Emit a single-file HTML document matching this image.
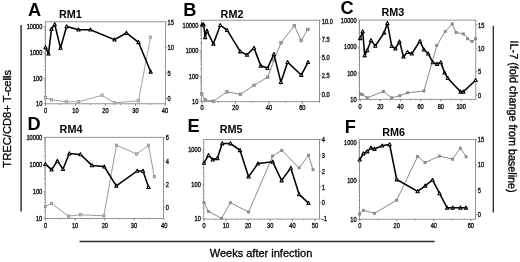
<!DOCTYPE html>
<html><head><meta charset="utf-8"><title>Figure</title>
<style>html,body{margin:0;padding:0;background:#fff;}body{width:520px;height:262px;overflow:hidden;position:relative;font-family:"Liberation Sans",sans-serif;}</style></head>
<body>
<svg width="520" height="262" viewBox="0 0 520 262" style="position:absolute;left:0;top:0;filter:grayscale(1)" font-family="Liberation Sans, sans-serif">
<rect width="520" height="262" fill="#fff"/>
<g>
<rect x="45.4" y="21.8" width="120" height="82" fill="none" stroke="#7a7a7a" stroke-width="0.8"/>
<text transform="translate(42.4,29.1) scale(0.9,1)" font-size="6.3" text-anchor="end" fill="#111" stroke="#111" stroke-width="0.33">10000</text>
<text transform="translate(42.4,54.8) scale(0.9,1)" font-size="6.3" text-anchor="end" fill="#111" stroke="#111" stroke-width="0.33">1000</text>
<text transform="translate(42.4,80.6) scale(0.9,1)" font-size="6.3" text-anchor="end" fill="#111" stroke="#111" stroke-width="0.33">100</text>
<text transform="translate(42.4,106.2) scale(0.9,1)" font-size="6.3" text-anchor="end" fill="#111" stroke="#111" stroke-width="0.33">10</text>
<text transform="translate(167.6,24.6) scale(0.9,1)" font-size="6.3" text-anchor="start" fill="#111" stroke="#111" stroke-width="0.33">15</text>
<text transform="translate(167.6,49.9) scale(0.9,1)" font-size="6.3" text-anchor="start" fill="#111" stroke="#111" stroke-width="0.33">10</text>
<text transform="translate(167.6,75.6) scale(0.9,1)" font-size="6.3" text-anchor="start" fill="#111" stroke="#111" stroke-width="0.33">5</text>
<text transform="translate(167.6,101.1) scale(0.9,1)" font-size="6.3" text-anchor="start" fill="#111" stroke="#111" stroke-width="0.33">0</text>
<text transform="translate(45.5,112.5) scale(0.9,1)" font-size="6.3" text-anchor="middle" fill="#111" stroke="#111" stroke-width="0.33">0</text>
<text transform="translate(75.5,112.5) scale(0.9,1)" font-size="6.3" text-anchor="middle" fill="#111" stroke="#111" stroke-width="0.33">10</text>
<text transform="translate(105.5,112.5) scale(0.9,1)" font-size="6.3" text-anchor="middle" fill="#111" stroke="#111" stroke-width="0.33">20</text>
<text transform="translate(135.5,112.5) scale(0.9,1)" font-size="6.3" text-anchor="middle" fill="#111" stroke="#111" stroke-width="0.33">30</text>
<text transform="translate(165,112.5) scale(0.9,1)" font-size="6.3" text-anchor="middle" fill="#111" stroke="#111" stroke-width="0.33">40</text>
<path d="M43.7 26.5H45.4M43.7 52.2H45.4M43.7 78H45.4M43.7 103.6H45.4M44.3 44.46H45.4M44.3 39.94H45.4M44.3 36.73H45.4M44.3 34.24H45.4M44.3 32.2H45.4M44.3 30.48H45.4M44.3 28.99H45.4M44.3 27.68H45.4M44.3 70.23H45.4M44.3 65.69H45.4M44.3 62.47H45.4M44.3 59.97H45.4M44.3 57.92H45.4M44.3 56.2H45.4M44.3 54.7H45.4M44.3 53.38H45.4M44.3 95.89H45.4M44.3 91.39H45.4M44.3 88.19H45.4M44.3 85.71H45.4M44.3 83.68H45.4M44.3 81.97H45.4M44.3 80.48H45.4M44.3 79.17H45.4M165.4 22H167.1M165.4 47.3H167.1M165.4 73H167.1M165.4 98.5H167.1M45.5 103.8V106M75.5 103.8V106M105.5 103.8V106M135.5 103.8V106M165 103.8V106M45.5 103.8V105M60.5 103.8V105M75.5 103.8V105M90.5 103.8V105M105.5 103.8V105M120.5 103.8V105M135.5 103.8V105M150.5 103.8V105M165.5 103.8V105" stroke="#7a7a7a" stroke-width="0.7" fill="none"/>
<polyline points="45.5,97.8 51.5,99.8 66.4,101.8 78.5,101.8 102.1,95.3 114.5,102.8 138.5,100.8 150.5,37.3" fill="none" stroke="#9a9a9a" stroke-width="0.9"/>
<rect x="44.25" y="96.55" width="2.5" height="2.5" fill="#cfcfcf" stroke="#8e8e8e" stroke-width="0.7"/>
<rect x="50.25" y="98.55" width="2.5" height="2.5" fill="#cfcfcf" stroke="#8e8e8e" stroke-width="0.7"/>
<rect x="65.15" y="100.55" width="2.5" height="2.5" fill="#cfcfcf" stroke="#8e8e8e" stroke-width="0.7"/>
<rect x="77.25" y="100.55" width="2.5" height="2.5" fill="#cfcfcf" stroke="#8e8e8e" stroke-width="0.7"/>
<rect x="100.85" y="94.05" width="2.5" height="2.5" fill="#cfcfcf" stroke="#8e8e8e" stroke-width="0.7"/>
<rect x="113.25" y="101.55" width="2.5" height="2.5" fill="#cfcfcf" stroke="#8e8e8e" stroke-width="0.7"/>
<rect x="137.25" y="99.55" width="2.5" height="2.5" fill="#cfcfcf" stroke="#8e8e8e" stroke-width="0.7"/>
<rect x="149.25" y="36.05" width="2.5" height="2.5" fill="#cfcfcf" stroke="#8e8e8e" stroke-width="0.7"/>
<polyline points="45.5,47.4 48.5,53.7 51.5,29 54.7,24.4 60.5,47.9 66.6,26.5 78.5,29.7 90.4,29.7 114.5,39.6 126.4,33 138.5,42.3 150.7,71.8" fill="none" stroke="#000" stroke-width="1.55" stroke-linejoin="miter"/>
<path d="M45.5 45.7L47.12 48.76H43.88Z" fill="#fff" stroke="#000" stroke-width="1.1" stroke-linejoin="round"/>
<path d="M48.5 52L50.12 55.06H46.88Z" fill="#fff" stroke="#000" stroke-width="1.1" stroke-linejoin="round"/>
<path d="M51.5 27.3L53.12 30.36H49.88Z" fill="#fff" stroke="#000" stroke-width="1.1" stroke-linejoin="round"/>
<path d="M54.7 22.7L56.32 25.76H53.09Z" fill="#fff" stroke="#000" stroke-width="1.1" stroke-linejoin="round"/>
<path d="M60.5 46.2L62.12 49.26H58.88Z" fill="#fff" stroke="#000" stroke-width="1.1" stroke-linejoin="round"/>
<path d="M66.6 24.8L68.21 27.86H64.98Z" fill="#fff" stroke="#000" stroke-width="1.1" stroke-linejoin="round"/>
<path d="M78.5 28L80.11 31.06H76.89Z" fill="#fff" stroke="#000" stroke-width="1.1" stroke-linejoin="round"/>
<path d="M90.4 28L92.02 31.06H88.79Z" fill="#fff" stroke="#000" stroke-width="1.1" stroke-linejoin="round"/>
<path d="M114.5 37.9L116.11 40.96H112.89Z" fill="#fff" stroke="#000" stroke-width="1.1" stroke-linejoin="round"/>
<path d="M126.4 31.3L128.02 34.36H124.79Z" fill="#fff" stroke="#000" stroke-width="1.1" stroke-linejoin="round"/>
<path d="M138.5 40.6L140.12 43.66H136.88Z" fill="#fff" stroke="#000" stroke-width="1.1" stroke-linejoin="round"/>
<path d="M150.7 70.1L152.31 73.16H149.08Z" fill="#fff" stroke="#000" stroke-width="1.1" stroke-linejoin="round"/>
<text x="28" y="15.6" font-size="18.2" font-weight="bold" fill="#000">A</text>
<text x="59" y="17.6" font-size="10.2" font-weight="bold" fill="#000" textLength="22.8" lengthAdjust="spacingAndGlyphs">RM1</text>
</g>
<g>
<rect x="201.3" y="20.2" width="118.3" height="81.5" fill="none" stroke="#7a7a7a" stroke-width="0.8"/>
<text transform="translate(198.3,27.8) scale(0.9,1)" font-size="6.3" text-anchor="end" fill="#111" stroke="#111" stroke-width="0.33">10000</text>
<text transform="translate(198.3,53.2) scale(0.9,1)" font-size="6.3" text-anchor="end" fill="#111" stroke="#111" stroke-width="0.33">1000</text>
<text transform="translate(198.3,79) scale(0.9,1)" font-size="6.3" text-anchor="end" fill="#111" stroke="#111" stroke-width="0.33">100</text>
<text transform="translate(198.3,103.6) scale(0.9,1)" font-size="6.3" text-anchor="end" fill="#111" stroke="#111" stroke-width="0.33">10</text>
<text transform="translate(321.8,23.6) scale(0.9,1)" font-size="6.3" text-anchor="start" fill="#111" stroke="#111" stroke-width="0.33">10.0</text>
<text transform="translate(321.8,41.8) scale(0.9,1)" font-size="6.3" text-anchor="start" fill="#111" stroke="#111" stroke-width="0.33">7.5</text>
<text transform="translate(321.8,60) scale(0.9,1)" font-size="6.3" text-anchor="start" fill="#111" stroke="#111" stroke-width="0.33">5.0</text>
<text transform="translate(321.8,78.3) scale(0.9,1)" font-size="6.3" text-anchor="start" fill="#111" stroke="#111" stroke-width="0.33">2.5</text>
<text transform="translate(321.8,96.6) scale(0.9,1)" font-size="6.3" text-anchor="start" fill="#111" stroke="#111" stroke-width="0.33">0.0</text>
<text transform="translate(202,110.3) scale(0.9,1)" font-size="6.3" text-anchor="middle" fill="#111" stroke="#111" stroke-width="0.33">0</text>
<text transform="translate(235.4,110.3) scale(0.9,1)" font-size="6.3" text-anchor="middle" fill="#111" stroke="#111" stroke-width="0.33">20</text>
<text transform="translate(268.9,110.3) scale(0.9,1)" font-size="6.3" text-anchor="middle" fill="#111" stroke="#111" stroke-width="0.33">40</text>
<text transform="translate(302.3,110.3) scale(0.9,1)" font-size="6.3" text-anchor="middle" fill="#111" stroke="#111" stroke-width="0.33">60</text>
<path d="M199.6 25.2H201.3M199.6 50.6H201.3M199.6 76.4H201.3M199.6 101H201.3M200.2 42.95H201.3M200.2 38.48H201.3M200.2 35.31H201.3M200.2 32.85H201.3M200.2 30.83H201.3M200.2 29.13H201.3M200.2 27.66H201.3M200.2 26.36H201.3M200.2 68.63H201.3M200.2 64.09H201.3M200.2 60.87H201.3M200.2 58.37H201.3M200.2 56.32H201.3M200.2 54.6H201.3M200.2 53.1H201.3M200.2 51.78H201.3M200.2 93.59H201.3M200.2 89.26H201.3M200.2 86.19H201.3M200.2 83.81H201.3M200.2 81.86H201.3M200.2 80.21H201.3M200.2 78.78H201.3M200.2 77.53H201.3M319.6 21H321.3M319.6 39.2H321.3M319.6 57.4H321.3M319.6 75.7H321.3M319.6 94H321.3M202 101.7V103.9M235.4 101.7V103.9M268.9 101.7V103.9M302.3 101.7V103.9M202 101.7V102.9M218.72 101.7V102.9M235.44 101.7V102.9M252.16 101.7V102.9M268.88 101.7V102.9M285.6 101.7V102.9M302.32 101.7V102.9M319.04 101.7V102.9" stroke="#7a7a7a" stroke-width="0.7" fill="none"/>
<polyline points="201.8,93.8 205.2,99.9 213.4,101.2 226.9,91.9 240.4,94.3 254,85.3 267.7,77.2 274,60.1 281,42.8 294.3,25.6 301.2,40.6 307.9,29.4" fill="none" stroke="#8a8a8a" stroke-width="1.0"/>
<rect x="200.55" y="92.55" width="2.5" height="2.5" fill="#a8a8a8" stroke="#7c7c7c" stroke-width="0.7"/>
<rect x="203.95" y="98.65" width="2.5" height="2.5" fill="#a8a8a8" stroke="#7c7c7c" stroke-width="0.7"/>
<rect x="212.15" y="99.95" width="2.5" height="2.5" fill="#a8a8a8" stroke="#7c7c7c" stroke-width="0.7"/>
<rect x="225.65" y="90.65" width="2.5" height="2.5" fill="#a8a8a8" stroke="#7c7c7c" stroke-width="0.7"/>
<rect x="239.15" y="93.05" width="2.5" height="2.5" fill="#a8a8a8" stroke="#7c7c7c" stroke-width="0.7"/>
<rect x="252.75" y="84.05" width="2.5" height="2.5" fill="#a8a8a8" stroke="#7c7c7c" stroke-width="0.7"/>
<rect x="266.45" y="75.95" width="2.5" height="2.5" fill="#a8a8a8" stroke="#7c7c7c" stroke-width="0.7"/>
<rect x="272.75" y="58.85" width="2.5" height="2.5" fill="#a8a8a8" stroke="#7c7c7c" stroke-width="0.7"/>
<rect x="279.75" y="41.55" width="2.5" height="2.5" fill="#a8a8a8" stroke="#7c7c7c" stroke-width="0.7"/>
<rect x="293.05" y="24.35" width="2.5" height="2.5" fill="#a8a8a8" stroke="#7c7c7c" stroke-width="0.7"/>
<rect x="299.95" y="39.35" width="2.5" height="2.5" fill="#a8a8a8" stroke="#7c7c7c" stroke-width="0.7"/>
<rect x="306.65" y="28.15" width="2.5" height="2.5" fill="#a8a8a8" stroke="#7c7c7c" stroke-width="0.7"/>
<polyline points="202.2,24.6 203.6,24.6 205.2,37.3 206.9,30.8 213.4,43.8 220.3,25.2 227.1,30.1 240.2,51.5 247,54.9 254,48 260.8,65.8 267.5,68.1 273.9,54.1 280.9,82.2 287.6,62.2 301.3,75 308.1,62.1" fill="none" stroke="#000" stroke-width="1.55" stroke-linejoin="miter"/>
<path d="M202.2 22.9L203.81 25.96H200.58Z" fill="#fff" stroke="#000" stroke-width="1.1" stroke-linejoin="round"/>
<path d="M203.6 22.9L205.22 25.96H201.98Z" fill="#fff" stroke="#000" stroke-width="1.1" stroke-linejoin="round"/>
<path d="M205.2 35.6L206.81 38.66H203.58Z" fill="#fff" stroke="#000" stroke-width="1.1" stroke-linejoin="round"/>
<path d="M206.9 29.1L208.52 32.16H205.28Z" fill="#fff" stroke="#000" stroke-width="1.1" stroke-linejoin="round"/>
<path d="M213.4 42.1L215.02 45.16H211.78Z" fill="#fff" stroke="#000" stroke-width="1.1" stroke-linejoin="round"/>
<path d="M220.3 23.5L221.92 26.56H218.69Z" fill="#fff" stroke="#000" stroke-width="1.1" stroke-linejoin="round"/>
<path d="M227.1 28.4L228.72 31.46H225.48Z" fill="#fff" stroke="#000" stroke-width="1.1" stroke-linejoin="round"/>
<path d="M240.2 49.8L241.81 52.86H238.58Z" fill="#fff" stroke="#000" stroke-width="1.1" stroke-linejoin="round"/>
<path d="M247 53.2L248.62 56.26H245.38Z" fill="#fff" stroke="#000" stroke-width="1.1" stroke-linejoin="round"/>
<path d="M254 46.3L255.62 49.36H252.38Z" fill="#fff" stroke="#000" stroke-width="1.1" stroke-linejoin="round"/>
<path d="M260.8 64.1L262.42 67.16H259.19Z" fill="#fff" stroke="#000" stroke-width="1.1" stroke-linejoin="round"/>
<path d="M267.5 66.4L269.12 69.46H265.88Z" fill="#fff" stroke="#000" stroke-width="1.1" stroke-linejoin="round"/>
<path d="M273.9 52.4L275.51 55.46H272.28Z" fill="#fff" stroke="#000" stroke-width="1.1" stroke-linejoin="round"/>
<path d="M280.9 80.5L282.51 83.56H279.28Z" fill="#fff" stroke="#000" stroke-width="1.1" stroke-linejoin="round"/>
<path d="M287.6 60.5L289.22 63.56H285.99Z" fill="#fff" stroke="#000" stroke-width="1.1" stroke-linejoin="round"/>
<path d="M301.3 73.3L302.92 76.36H299.69Z" fill="#fff" stroke="#000" stroke-width="1.1" stroke-linejoin="round"/>
<path d="M308.1 60.4L309.72 63.46H306.49Z" fill="#fff" stroke="#000" stroke-width="1.1" stroke-linejoin="round"/>
<text x="183.3" y="15.6" font-size="18.2" font-weight="bold" fill="#000">B</text>
<text x="220.6" y="17.6" font-size="10.2" font-weight="bold" fill="#000" textLength="22.8" lengthAdjust="spacingAndGlyphs">RM2</text>
</g>
<g>
<rect x="359.6" y="20.1" width="116.2" height="79.2" fill="none" stroke="#7a7a7a" stroke-width="0.8"/>
<text transform="translate(356.6,22.5) scale(0.9,1)" font-size="6.3" text-anchor="end" fill="#111" stroke="#111" stroke-width="0.33">10000</text>
<text transform="translate(356.6,48.8) scale(0.9,1)" font-size="6.3" text-anchor="end" fill="#111" stroke="#111" stroke-width="0.33">1000</text>
<text transform="translate(356.6,75.7) scale(0.9,1)" font-size="6.3" text-anchor="end" fill="#111" stroke="#111" stroke-width="0.33">100</text>
<text transform="translate(356.6,101.9) scale(0.9,1)" font-size="6.3" text-anchor="end" fill="#111" stroke="#111" stroke-width="0.33">10</text>
<text transform="translate(478,27.5) scale(0.9,1)" font-size="6.3" text-anchor="start" fill="#111" stroke="#111" stroke-width="0.33">15</text>
<text transform="translate(478,51) scale(0.9,1)" font-size="6.3" text-anchor="start" fill="#111" stroke="#111" stroke-width="0.33">10</text>
<text transform="translate(478,74.2) scale(0.9,1)" font-size="6.3" text-anchor="start" fill="#111" stroke="#111" stroke-width="0.33">5</text>
<text transform="translate(478,97.7) scale(0.9,1)" font-size="6.3" text-anchor="start" fill="#111" stroke="#111" stroke-width="0.33">0</text>
<text transform="translate(360.2,109.1) scale(0.9,1)" font-size="6.3" text-anchor="middle" fill="#111" stroke="#111" stroke-width="0.33">0</text>
<text transform="translate(380.3,109.1) scale(0.9,1)" font-size="6.3" text-anchor="middle" fill="#111" stroke="#111" stroke-width="0.33">20</text>
<text transform="translate(400.5,109.1) scale(0.9,1)" font-size="6.3" text-anchor="middle" fill="#111" stroke="#111" stroke-width="0.33">40</text>
<text transform="translate(420.6,109.1) scale(0.9,1)" font-size="6.3" text-anchor="middle" fill="#111" stroke="#111" stroke-width="0.33">60</text>
<text transform="translate(440.8,109.1) scale(0.9,1)" font-size="6.3" text-anchor="middle" fill="#111" stroke="#111" stroke-width="0.33">80</text>
<text transform="translate(461.2,109.1) scale(0.9,1)" font-size="6.3" text-anchor="middle" fill="#111" stroke="#111" stroke-width="0.33">100</text>
<path d="M357.9 19.9H359.6M357.9 46.2H359.6M357.9 73.1H359.6M357.9 99.3H359.6M358.5 38.28H359.6M358.5 33.65H359.6M358.5 30.37H359.6M358.5 27.82H359.6M358.5 25.73H359.6M358.5 23.97H359.6M358.5 22.45H359.6M358.5 21.1H359.6M358.5 65H359.6M358.5 60.27H359.6M358.5 56.9H359.6M358.5 54.3H359.6M358.5 52.17H359.6M358.5 50.37H359.6M358.5 48.81H359.6M358.5 47.43H359.6M358.5 91.41H359.6M358.5 86.8H359.6M358.5 83.53H359.6M358.5 80.99H359.6M358.5 78.91H359.6M358.5 77.16H359.6M358.5 75.64H359.6M358.5 74.3H359.6M475.8 24.9H477.5M475.8 48.4H477.5M475.8 71.6H477.5M475.8 95.1H477.5M360.2 99.3V101.5M380.3 99.3V101.5M400.5 99.3V101.5M420.6 99.3V101.5M440.8 99.3V101.5M461.2 99.3V101.5M360.2 99.3V100.5M370.28 99.3V100.5M380.36 99.3V100.5M390.44 99.3V100.5M400.52 99.3V100.5M410.6 99.3V100.5M420.68 99.3V100.5M430.76 99.3V100.5M440.84 99.3V100.5M450.92 99.3V100.5M461 99.3V100.5M471.08 99.3V100.5" stroke="#7a7a7a" stroke-width="0.7" fill="none"/>
<polyline points="360.2,94 362.2,94.5 367.2,97.8 383.3,91.5 391.7,97.8 399.7,95.8 407.5,92.8 423.9,91 436.8,45.5 445.2,31.5 452.2,23.9 456,32.5 463.5,33.9 467.6,38.8 472,41.5 475.7,38.8" fill="none" stroke="#8a8a8a" stroke-width="1.0"/>
<rect x="359.15" y="92.95" width="2.1" height="2.1" fill="#989898" stroke="#7c7c7c" stroke-width="0.7"/>
<rect x="361.15" y="93.45" width="2.1" height="2.1" fill="#989898" stroke="#7c7c7c" stroke-width="0.7"/>
<rect x="366.15" y="96.75" width="2.1" height="2.1" fill="#989898" stroke="#7c7c7c" stroke-width="0.7"/>
<rect x="382.25" y="90.45" width="2.1" height="2.1" fill="#989898" stroke="#7c7c7c" stroke-width="0.7"/>
<rect x="390.65" y="96.75" width="2.1" height="2.1" fill="#989898" stroke="#7c7c7c" stroke-width="0.7"/>
<rect x="398.65" y="94.75" width="2.1" height="2.1" fill="#989898" stroke="#7c7c7c" stroke-width="0.7"/>
<rect x="406.45" y="91.75" width="2.1" height="2.1" fill="#989898" stroke="#7c7c7c" stroke-width="0.7"/>
<rect x="422.85" y="89.95" width="2.1" height="2.1" fill="#989898" stroke="#7c7c7c" stroke-width="0.7"/>
<rect x="435.75" y="44.45" width="2.1" height="2.1" fill="#989898" stroke="#7c7c7c" stroke-width="0.7"/>
<rect x="444.15" y="30.45" width="2.1" height="2.1" fill="#989898" stroke="#7c7c7c" stroke-width="0.7"/>
<rect x="451.15" y="22.85" width="2.1" height="2.1" fill="#989898" stroke="#7c7c7c" stroke-width="0.7"/>
<rect x="454.95" y="31.45" width="2.1" height="2.1" fill="#989898" stroke="#7c7c7c" stroke-width="0.7"/>
<rect x="462.45" y="32.85" width="2.1" height="2.1" fill="#989898" stroke="#7c7c7c" stroke-width="0.7"/>
<rect x="466.55" y="37.75" width="2.1" height="2.1" fill="#989898" stroke="#7c7c7c" stroke-width="0.7"/>
<rect x="470.95" y="40.45" width="2.1" height="2.1" fill="#989898" stroke="#7c7c7c" stroke-width="0.7"/>
<rect x="474.65" y="37.75" width="2.1" height="2.1" fill="#989898" stroke="#7c7c7c" stroke-width="0.7"/>
<polyline points="360.2,38.3 362.7,31.5 364.7,55.4 367.2,50.4 371,40.3 375.3,45.9 384.1,32.8 387.4,23.2 391.7,46.1 395.4,48.6 399.5,41.6 403.5,56.7 407.5,52.2 411.8,53.7 419.9,41.1 423.9,49.6 428.2,53.7 432.9,62.4 437,64 440.8,62.4 444.6,72.6 447.8,78.2 460.6,91.8 463.3,91.8 475.6,80.2" fill="none" stroke="#000" stroke-width="1.55" stroke-linejoin="miter"/>
<path d="M360.2 36.6L361.81 39.66H358.58Z" fill="#fff" stroke="#000" stroke-width="1.1" stroke-linejoin="round"/>
<path d="M362.7 29.8L364.31 32.86H361.08Z" fill="#fff" stroke="#000" stroke-width="1.1" stroke-linejoin="round"/>
<path d="M364.7 53.7L366.31 56.76H363.08Z" fill="#fff" stroke="#000" stroke-width="1.1" stroke-linejoin="round"/>
<path d="M367.2 48.7L368.81 51.76H365.58Z" fill="#fff" stroke="#000" stroke-width="1.1" stroke-linejoin="round"/>
<path d="M371 38.6L372.62 41.66H369.38Z" fill="#fff" stroke="#000" stroke-width="1.1" stroke-linejoin="round"/>
<path d="M375.3 44.2L376.92 47.26H373.69Z" fill="#fff" stroke="#000" stroke-width="1.1" stroke-linejoin="round"/>
<path d="M384.1 31.1L385.72 34.16H382.49Z" fill="#fff" stroke="#000" stroke-width="1.1" stroke-linejoin="round"/>
<path d="M387.4 21.5L389.01 24.56H385.78Z" fill="#fff" stroke="#000" stroke-width="1.1" stroke-linejoin="round"/>
<path d="M391.7 44.4L393.31 47.46H390.08Z" fill="#fff" stroke="#000" stroke-width="1.1" stroke-linejoin="round"/>
<path d="M395.4 46.9L397.01 49.96H393.78Z" fill="#fff" stroke="#000" stroke-width="1.1" stroke-linejoin="round"/>
<path d="M399.5 39.9L401.12 42.96H397.88Z" fill="#fff" stroke="#000" stroke-width="1.1" stroke-linejoin="round"/>
<path d="M403.5 55L405.12 58.06H401.88Z" fill="#fff" stroke="#000" stroke-width="1.1" stroke-linejoin="round"/>
<path d="M407.5 50.5L409.12 53.56H405.88Z" fill="#fff" stroke="#000" stroke-width="1.1" stroke-linejoin="round"/>
<path d="M411.8 52L413.42 55.06H410.19Z" fill="#fff" stroke="#000" stroke-width="1.1" stroke-linejoin="round"/>
<path d="M419.9 39.4L421.51 42.46H418.28Z" fill="#fff" stroke="#000" stroke-width="1.1" stroke-linejoin="round"/>
<path d="M423.9 47.9L425.51 50.96H422.28Z" fill="#fff" stroke="#000" stroke-width="1.1" stroke-linejoin="round"/>
<path d="M428.2 52L429.81 55.06H426.58Z" fill="#fff" stroke="#000" stroke-width="1.1" stroke-linejoin="round"/>
<path d="M432.9 60.7L434.51 63.76H431.28Z" fill="#fff" stroke="#000" stroke-width="1.1" stroke-linejoin="round"/>
<path d="M437 62.3L438.62 65.36H435.38Z" fill="#fff" stroke="#000" stroke-width="1.1" stroke-linejoin="round"/>
<path d="M440.8 60.7L442.42 63.76H439.19Z" fill="#fff" stroke="#000" stroke-width="1.1" stroke-linejoin="round"/>
<path d="M444.6 70.9L446.22 73.96H442.99Z" fill="#fff" stroke="#000" stroke-width="1.1" stroke-linejoin="round"/>
<path d="M447.8 76.5L449.42 79.56H446.19Z" fill="#fff" stroke="#000" stroke-width="1.1" stroke-linejoin="round"/>
<path d="M460.6 90.1L462.22 93.16H458.99Z" fill="#fff" stroke="#000" stroke-width="1.1" stroke-linejoin="round"/>
<path d="M463.3 90.1L464.92 93.16H461.69Z" fill="#fff" stroke="#000" stroke-width="1.1" stroke-linejoin="round"/>
<path d="M475.6 78.5L477.22 81.56H473.99Z" fill="#fff" stroke="#000" stroke-width="1.1" stroke-linejoin="round"/>
<text x="340.6" y="14" font-size="18.2" font-weight="bold" fill="#000">C</text>
<text x="381.5" y="16.4" font-size="10.2" font-weight="bold" fill="#000" textLength="22.8" lengthAdjust="spacingAndGlyphs">RM3</text>
</g>
<g>
<rect x="45.2" y="137.3" width="118.3" height="81.1" fill="none" stroke="#7a7a7a" stroke-width="0.8"/>
<text transform="translate(42.2,140) scale(0.9,1)" font-size="6.3" text-anchor="end" fill="#111" stroke="#111" stroke-width="0.33">10000</text>
<text transform="translate(42.2,167.2) scale(0.9,1)" font-size="6.3" text-anchor="end" fill="#111" stroke="#111" stroke-width="0.33">1000</text>
<text transform="translate(42.2,194) scale(0.9,1)" font-size="6.3" text-anchor="end" fill="#111" stroke="#111" stroke-width="0.33">100</text>
<text transform="translate(42.2,220.9) scale(0.9,1)" font-size="6.3" text-anchor="end" fill="#111" stroke="#111" stroke-width="0.33">10</text>
<text transform="translate(165.7,140.3) scale(0.9,1)" font-size="6.3" text-anchor="start" fill="#111" stroke="#111" stroke-width="0.33">6</text>
<text transform="translate(165.7,163.5) scale(0.9,1)" font-size="6.3" text-anchor="start" fill="#111" stroke="#111" stroke-width="0.33">4</text>
<text transform="translate(165.7,186.9) scale(0.9,1)" font-size="6.3" text-anchor="start" fill="#111" stroke="#111" stroke-width="0.33">2</text>
<text transform="translate(165.7,209.6) scale(0.9,1)" font-size="6.3" text-anchor="start" fill="#111" stroke="#111" stroke-width="0.33">0</text>
<text transform="translate(45.5,227.8) scale(0.9,1)" font-size="6.3" text-anchor="middle" fill="#111" stroke="#111" stroke-width="0.33">0</text>
<text transform="translate(75.1,227.8) scale(0.9,1)" font-size="6.3" text-anchor="middle" fill="#111" stroke="#111" stroke-width="0.33">10</text>
<text transform="translate(104.8,227.8) scale(0.9,1)" font-size="6.3" text-anchor="middle" fill="#111" stroke="#111" stroke-width="0.33">20</text>
<text transform="translate(134,227.8) scale(0.9,1)" font-size="6.3" text-anchor="middle" fill="#111" stroke="#111" stroke-width="0.33">30</text>
<text transform="translate(164.2,227.8) scale(0.9,1)" font-size="6.3" text-anchor="middle" fill="#111" stroke="#111" stroke-width="0.33">40</text>
<path d="M43.5 137.4H45.2M43.5 164.6H45.2M43.5 191.4H45.2M43.5 218.3H45.2M44.1 156.41H45.2M44.1 151.62H45.2M44.1 148.22H45.2M44.1 145.59H45.2M44.1 143.43H45.2M44.1 141.61H45.2M44.1 140.04H45.2M44.1 138.64H45.2M44.1 183.33H45.2M44.1 178.61H45.2M44.1 175.26H45.2M44.1 172.67H45.2M44.1 170.55H45.2M44.1 168.75H45.2M44.1 167.2H45.2M44.1 165.83H45.2M44.1 210.2H45.2M44.1 205.47H45.2M44.1 202.1H45.2M44.1 199.5H45.2M44.1 197.37H45.2M44.1 195.57H45.2M44.1 194.01H45.2M44.1 192.63H45.2M163.5 137.7H165.2M163.5 160.9H165.2M163.5 184.3H165.2M163.5 207H165.2M45.5 218.4V220.6M75.1 218.4V220.6M104.8 218.4V220.6M134 218.4V220.6M164.2 218.4V220.6M45.5 218.4V219.6M60.33 218.4V219.6M75.15 218.4V219.6M89.97 218.4V219.6M104.8 218.4V219.6M119.62 218.4V219.6M134.45 218.4V219.6M149.27 218.4V219.6" stroke="#7a7a7a" stroke-width="0.7" fill="none"/>
<polyline points="45.4,206.5 51.6,203.5 68.5,216.1 80.6,214.8 103.8,215.8 116.5,145.2 136.7,154 148.5,145.2 154.3,176.7" fill="none" stroke="#8a8a8a" stroke-width="0.85"/>
<rect x="44.25" y="205.35" width="2.3" height="2.3" fill="#c4c4c4" stroke="#848484" stroke-width="0.7"/>
<rect x="50.45" y="202.35" width="2.3" height="2.3" fill="#c4c4c4" stroke="#848484" stroke-width="0.7"/>
<rect x="67.35" y="214.95" width="2.3" height="2.3" fill="#c4c4c4" stroke="#848484" stroke-width="0.7"/>
<rect x="79.45" y="213.65" width="2.3" height="2.3" fill="#c4c4c4" stroke="#848484" stroke-width="0.7"/>
<rect x="102.65" y="214.65" width="2.3" height="2.3" fill="#c4c4c4" stroke="#848484" stroke-width="0.7"/>
<rect x="115.35" y="144.05" width="2.3" height="2.3" fill="#c4c4c4" stroke="#848484" stroke-width="0.7"/>
<rect x="135.55" y="152.85" width="2.3" height="2.3" fill="#c4c4c4" stroke="#848484" stroke-width="0.7"/>
<rect x="147.35" y="144.05" width="2.3" height="2.3" fill="#c4c4c4" stroke="#848484" stroke-width="0.7"/>
<rect x="153.15" y="175.55" width="2.3" height="2.3" fill="#c4c4c4" stroke="#848484" stroke-width="0.7"/>
<polyline points="45.4,164.1 51.6,169.7 57.4,160.9 63,169.2 69.3,153.5 80.4,154.4 92,165.4 104.2,166.6 116.3,185.8 137.2,170.9 143,170.9 148.5,187.1" fill="none" stroke="#000" stroke-width="1.55" stroke-linejoin="miter"/>
<path d="M45.4 162.4L47.02 165.46H43.78Z" fill="#fff" stroke="#000" stroke-width="1.1" stroke-linejoin="round"/>
<path d="M51.6 168L53.22 171.06H49.98Z" fill="#fff" stroke="#000" stroke-width="1.1" stroke-linejoin="round"/>
<path d="M57.4 159.2L59.02 162.26H55.78Z" fill="#fff" stroke="#000" stroke-width="1.1" stroke-linejoin="round"/>
<path d="M63 167.5L64.61 170.56H61.38Z" fill="#fff" stroke="#000" stroke-width="1.1" stroke-linejoin="round"/>
<path d="M69.3 151.8L70.91 154.86H67.69Z" fill="#fff" stroke="#000" stroke-width="1.1" stroke-linejoin="round"/>
<path d="M80.4 152.7L82.02 155.76H78.79Z" fill="#fff" stroke="#000" stroke-width="1.1" stroke-linejoin="round"/>
<path d="M92 163.7L93.61 166.76H90.39Z" fill="#fff" stroke="#000" stroke-width="1.1" stroke-linejoin="round"/>
<path d="M104.2 164.9L105.81 167.96H102.59Z" fill="#fff" stroke="#000" stroke-width="1.1" stroke-linejoin="round"/>
<path d="M116.3 184.1L117.91 187.16H114.69Z" fill="#fff" stroke="#000" stroke-width="1.1" stroke-linejoin="round"/>
<path d="M137.2 169.2L138.81 172.26H135.58Z" fill="#fff" stroke="#000" stroke-width="1.1" stroke-linejoin="round"/>
<path d="M143 169.2L144.62 172.26H141.38Z" fill="#fff" stroke="#000" stroke-width="1.1" stroke-linejoin="round"/>
<path d="M148.5 185.4L150.12 188.46H146.88Z" fill="#fff" stroke="#000" stroke-width="1.1" stroke-linejoin="round"/>
<text x="27.6" y="129.9" font-size="18.2" font-weight="bold" fill="#000">D</text>
<text x="59.6" y="132.5" font-size="10.2" font-weight="bold" fill="#000" textLength="22.8" lengthAdjust="spacingAndGlyphs">RM4</text>
</g>
<g>
<rect x="203.8" y="139.4" width="115.8" height="79.7" fill="none" stroke="#7a7a7a" stroke-width="0.8"/>
<text transform="translate(200.8,152.1) scale(0.9,1)" font-size="6.3" text-anchor="end" fill="#111" stroke="#111" stroke-width="0.33">1000</text>
<text transform="translate(200.8,186.9) scale(0.9,1)" font-size="6.3" text-anchor="end" fill="#111" stroke="#111" stroke-width="0.33">100</text>
<text transform="translate(200.8,220.9) scale(0.9,1)" font-size="6.3" text-anchor="end" fill="#111" stroke="#111" stroke-width="0.33">10</text>
<text transform="translate(321.8,142) scale(0.9,1)" font-size="6.3" text-anchor="start" fill="#111" stroke="#111" stroke-width="0.33">4</text>
<text transform="translate(321.8,157.9) scale(0.9,1)" font-size="6.3" text-anchor="start" fill="#111" stroke="#111" stroke-width="0.33">3</text>
<text transform="translate(321.8,174) scale(0.9,1)" font-size="6.3" text-anchor="start" fill="#111" stroke="#111" stroke-width="0.33">2</text>
<text transform="translate(321.8,189.5) scale(0.9,1)" font-size="6.3" text-anchor="start" fill="#111" stroke="#111" stroke-width="0.33">1</text>
<text transform="translate(321.8,205.4) scale(0.9,1)" font-size="6.3" text-anchor="start" fill="#111" stroke="#111" stroke-width="0.33">0</text>
<text transform="translate(321.8,221.4) scale(0.9,1)" font-size="6.3" text-anchor="start" fill="#111" stroke="#111" stroke-width="0.33">-1</text>
<text transform="translate(204,227.8) scale(0.9,1)" font-size="6.3" text-anchor="middle" fill="#111" stroke="#111" stroke-width="0.33">0</text>
<text transform="translate(226,227.8) scale(0.9,1)" font-size="6.3" text-anchor="middle" fill="#111" stroke="#111" stroke-width="0.33">10</text>
<text transform="translate(248.1,227.8) scale(0.9,1)" font-size="6.3" text-anchor="middle" fill="#111" stroke="#111" stroke-width="0.33">20</text>
<text transform="translate(270.2,227.8) scale(0.9,1)" font-size="6.3" text-anchor="middle" fill="#111" stroke="#111" stroke-width="0.33">30</text>
<text transform="translate(292.4,227.8) scale(0.9,1)" font-size="6.3" text-anchor="middle" fill="#111" stroke="#111" stroke-width="0.33">40</text>
<text transform="translate(315,227.8) scale(0.9,1)" font-size="6.3" text-anchor="middle" fill="#111" stroke="#111" stroke-width="0.33">50</text>
<path d="M202.1 149.5H203.8M202.1 184.3H203.8M202.1 218.3H203.8M202.7 173.82H203.8M202.7 167.7H203.8M202.7 163.35H203.8M202.7 159.98H203.8M202.7 157.22H203.8M202.7 154.89H203.8M202.7 152.87H203.8M202.7 151.09H203.8M202.7 208.06H203.8M202.7 202.08H203.8M202.7 197.83H203.8M202.7 194.54H203.8M202.7 191.84H203.8M202.7 189.57H203.8M202.7 187.59H203.8M202.7 185.86H203.8M319.6 139.4H321.3M319.6 155.3H321.3M319.6 171.4H321.3M319.6 186.9H321.3M319.6 202.8H321.3M319.6 218.8H321.3M204 219.1V221.3M226 219.1V221.3M248.1 219.1V221.3M270.2 219.1V221.3M292.4 219.1V221.3M315 219.1V221.3M204 219.1V220.3M215.05 219.1V220.3M226.1 219.1V220.3M237.15 219.1V220.3M248.2 219.1V220.3M259.25 219.1V220.3M270.3 219.1V220.3M281.35 219.1V220.3M292.4 219.1V220.3M303.45 219.1V220.3M314.5 219.1V220.3" stroke="#7a7a7a" stroke-width="0.7" fill="none"/>
<polyline points="204,202.7 208.5,211.5 221.6,218.3 230.5,202.7 248.6,212 272.7,156 281.8,150.3 299.1,167.9 308.5,155.3 313,169.7" fill="none" stroke="#8a8a8a" stroke-width="1.0"/>
<rect x="202.95" y="201.65" width="2.1" height="2.1" fill="#989898" stroke="#7c7c7c" stroke-width="0.7"/>
<rect x="207.45" y="210.45" width="2.1" height="2.1" fill="#989898" stroke="#7c7c7c" stroke-width="0.7"/>
<rect x="220.55" y="217.25" width="2.1" height="2.1" fill="#989898" stroke="#7c7c7c" stroke-width="0.7"/>
<rect x="229.45" y="201.65" width="2.1" height="2.1" fill="#989898" stroke="#7c7c7c" stroke-width="0.7"/>
<rect x="247.55" y="210.95" width="2.1" height="2.1" fill="#989898" stroke="#7c7c7c" stroke-width="0.7"/>
<rect x="271.65" y="154.95" width="2.1" height="2.1" fill="#989898" stroke="#7c7c7c" stroke-width="0.7"/>
<rect x="280.75" y="149.25" width="2.1" height="2.1" fill="#989898" stroke="#7c7c7c" stroke-width="0.7"/>
<rect x="298.05" y="166.85" width="2.1" height="2.1" fill="#989898" stroke="#7c7c7c" stroke-width="0.7"/>
<rect x="307.45" y="154.25" width="2.1" height="2.1" fill="#989898" stroke="#7c7c7c" stroke-width="0.7"/>
<rect x="311.95" y="168.65" width="2.1" height="2.1" fill="#989898" stroke="#7c7c7c" stroke-width="0.7"/>
<polyline points="204,162.9 208.5,155.3 212.8,159.6 217.4,158.3 222.2,143.5 230.5,143.5 240,150.3 248.6,176.7 257.9,163.6 272.7,161.8 281.6,180.5 290.8,167.9 299.1,194.3 308.5,203.1" fill="none" stroke="#000" stroke-width="1.55" stroke-linejoin="miter"/>
<path d="M204 161.2L205.62 164.26H202.38Z" fill="#fff" stroke="#000" stroke-width="1.1" stroke-linejoin="round"/>
<path d="M208.5 153.6L210.12 156.66H206.88Z" fill="#fff" stroke="#000" stroke-width="1.1" stroke-linejoin="round"/>
<path d="M212.8 157.9L214.42 160.96H211.19Z" fill="#fff" stroke="#000" stroke-width="1.1" stroke-linejoin="round"/>
<path d="M217.4 156.6L219.02 159.66H215.78Z" fill="#fff" stroke="#000" stroke-width="1.1" stroke-linejoin="round"/>
<path d="M222.2 141.8L223.81 144.86H220.58Z" fill="#fff" stroke="#000" stroke-width="1.1" stroke-linejoin="round"/>
<path d="M230.5 141.8L232.12 144.86H228.88Z" fill="#fff" stroke="#000" stroke-width="1.1" stroke-linejoin="round"/>
<path d="M240 148.6L241.62 151.66H238.38Z" fill="#fff" stroke="#000" stroke-width="1.1" stroke-linejoin="round"/>
<path d="M248.6 175L250.22 178.06H246.98Z" fill="#fff" stroke="#000" stroke-width="1.1" stroke-linejoin="round"/>
<path d="M257.9 161.9L259.51 164.96H256.28Z" fill="#fff" stroke="#000" stroke-width="1.1" stroke-linejoin="round"/>
<path d="M272.7 160.1L274.31 163.16H271.08Z" fill="#fff" stroke="#000" stroke-width="1.1" stroke-linejoin="round"/>
<path d="M281.6 178.8L283.22 181.86H279.99Z" fill="#fff" stroke="#000" stroke-width="1.1" stroke-linejoin="round"/>
<path d="M290.8 166.2L292.42 169.26H289.19Z" fill="#fff" stroke="#000" stroke-width="1.1" stroke-linejoin="round"/>
<path d="M299.1 192.6L300.72 195.66H297.49Z" fill="#fff" stroke="#000" stroke-width="1.1" stroke-linejoin="round"/>
<path d="M308.5 201.4L310.12 204.46H306.88Z" fill="#fff" stroke="#000" stroke-width="1.1" stroke-linejoin="round"/>
<text x="187.5" y="132.4" font-size="18.2" font-weight="bold" fill="#000">E</text>
<text x="219.8" y="132.5" font-size="10.2" font-weight="bold" fill="#000" textLength="22.8" lengthAdjust="spacingAndGlyphs">RM5</text>
</g>
<g>
<rect x="359.6" y="139.6" width="116" height="79.6" fill="none" stroke="#7a7a7a" stroke-width="0.8"/>
<text transform="translate(356.6,144.8) scale(0.9,1)" font-size="6.3" text-anchor="end" fill="#111" stroke="#111" stroke-width="0.33">1000</text>
<text transform="translate(356.6,183.1) scale(0.9,1)" font-size="6.3" text-anchor="end" fill="#111" stroke="#111" stroke-width="0.33">100</text>
<text transform="translate(356.6,221.7) scale(0.9,1)" font-size="6.3" text-anchor="end" fill="#111" stroke="#111" stroke-width="0.33">10</text>
<text transform="translate(477.8,142.3) scale(0.9,1)" font-size="6.3" text-anchor="start" fill="#111" stroke="#111" stroke-width="0.33">15</text>
<text transform="translate(477.8,167.3) scale(0.9,1)" font-size="6.3" text-anchor="start" fill="#111" stroke="#111" stroke-width="0.33">10</text>
<text transform="translate(477.8,192.7) scale(0.9,1)" font-size="6.3" text-anchor="start" fill="#111" stroke="#111" stroke-width="0.33">5</text>
<text transform="translate(477.8,217.2) scale(0.9,1)" font-size="6.3" text-anchor="start" fill="#111" stroke="#111" stroke-width="0.33">0</text>
<text transform="translate(359.8,228) scale(0.9,1)" font-size="6.3" text-anchor="middle" fill="#111" stroke="#111" stroke-width="0.33">0</text>
<text transform="translate(396.7,228) scale(0.9,1)" font-size="6.3" text-anchor="middle" fill="#111" stroke="#111" stroke-width="0.33">20</text>
<text transform="translate(433.8,228) scale(0.9,1)" font-size="6.3" text-anchor="middle" fill="#111" stroke="#111" stroke-width="0.33">40</text>
<text transform="translate(470.8,228) scale(0.9,1)" font-size="6.3" text-anchor="middle" fill="#111" stroke="#111" stroke-width="0.33">60</text>
<path d="M357.9 142.2H359.6M357.9 180.5H359.6M357.9 219.1H359.6M358.5 168.97H359.6M358.5 162.23H359.6M358.5 157.44H359.6M358.5 153.73H359.6M358.5 150.7H359.6M358.5 148.13H359.6M358.5 145.91H359.6M358.5 143.95H359.6M358.5 207.48H359.6M358.5 200.68H359.6M358.5 195.86H359.6M358.5 192.12H359.6M358.5 189.06H359.6M358.5 186.48H359.6M358.5 184.24H359.6M358.5 182.27H359.6M475.6 139.7H477.3M475.6 164.7H477.3M475.6 190.1H477.3M475.6 214.6H477.3M359.8 219.2V221.4M396.7 219.2V221.4M433.8 219.2V221.4M470.8 219.2V221.4M359.8 219.2V220.4M378.3 219.2V220.4M396.8 219.2V220.4M415.3 219.2V220.4M433.8 219.2V220.4M452.3 219.2V220.4M470.8 219.2V220.4" stroke="#7a7a7a" stroke-width="0.7" fill="none"/>
<polyline points="359.7,214.1 363.4,210.3 374.5,213.3 396.7,200.2 417.6,156.5 425,162.6 439.5,156.1 452.6,159.2 460.3,148.1 466.1,156.8" fill="none" stroke="#8a8a8a" stroke-width="1.0"/>
<rect x="358.65" y="213.05" width="2.1" height="2.1" fill="#989898" stroke="#7c7c7c" stroke-width="0.7"/>
<rect x="362.35" y="209.25" width="2.1" height="2.1" fill="#989898" stroke="#7c7c7c" stroke-width="0.7"/>
<rect x="373.45" y="212.25" width="2.1" height="2.1" fill="#989898" stroke="#7c7c7c" stroke-width="0.7"/>
<rect x="395.65" y="199.15" width="2.1" height="2.1" fill="#989898" stroke="#7c7c7c" stroke-width="0.7"/>
<rect x="416.55" y="155.45" width="2.1" height="2.1" fill="#989898" stroke="#7c7c7c" stroke-width="0.7"/>
<rect x="423.95" y="161.55" width="2.1" height="2.1" fill="#989898" stroke="#7c7c7c" stroke-width="0.7"/>
<rect x="438.45" y="155.05" width="2.1" height="2.1" fill="#989898" stroke="#7c7c7c" stroke-width="0.7"/>
<rect x="451.55" y="158.15" width="2.1" height="2.1" fill="#989898" stroke="#7c7c7c" stroke-width="0.7"/>
<rect x="459.25" y="147.05" width="2.1" height="2.1" fill="#989898" stroke="#7c7c7c" stroke-width="0.7"/>
<rect x="465.05" y="155.75" width="2.1" height="2.1" fill="#989898" stroke="#7c7c7c" stroke-width="0.7"/>
<polyline points="359.7,159.6 363.4,153.5 367.2,151.5 371,147.8 374.5,149 382.1,145.7 389.6,144.5 396.7,179.5 417.6,191.4 425.2,185.8 432.5,180 439.5,193.4 447.1,207.8 452.6,207.8 460.4,207.8 466,207.8" fill="none" stroke="#000" stroke-width="1.55" stroke-linejoin="miter"/>
<path d="M359.7 157.9L361.31 160.96H358.08Z" fill="#fff" stroke="#000" stroke-width="1.1" stroke-linejoin="round"/>
<path d="M363.4 151.8L365.01 154.86H361.78Z" fill="#fff" stroke="#000" stroke-width="1.1" stroke-linejoin="round"/>
<path d="M367.2 149.8L368.81 152.86H365.58Z" fill="#fff" stroke="#000" stroke-width="1.1" stroke-linejoin="round"/>
<path d="M371 146.1L372.62 149.16H369.38Z" fill="#fff" stroke="#000" stroke-width="1.1" stroke-linejoin="round"/>
<path d="M374.5 147.3L376.12 150.36H372.88Z" fill="#fff" stroke="#000" stroke-width="1.1" stroke-linejoin="round"/>
<path d="M382.1 144L383.72 147.06H380.49Z" fill="#fff" stroke="#000" stroke-width="1.1" stroke-linejoin="round"/>
<path d="M389.6 142.8L391.22 145.86H387.99Z" fill="#fff" stroke="#000" stroke-width="1.1" stroke-linejoin="round"/>
<path d="M396.7 177.8L398.31 180.86H395.08Z" fill="#fff" stroke="#000" stroke-width="1.1" stroke-linejoin="round"/>
<path d="M417.6 189.7L419.22 192.76H415.99Z" fill="#fff" stroke="#000" stroke-width="1.1" stroke-linejoin="round"/>
<path d="M425.2 184.1L426.81 187.16H423.58Z" fill="#fff" stroke="#000" stroke-width="1.1" stroke-linejoin="round"/>
<path d="M432.5 178.3L434.12 181.36H430.88Z" fill="#fff" stroke="#000" stroke-width="1.1" stroke-linejoin="round"/>
<path d="M439.5 191.7L441.12 194.76H437.88Z" fill="#fff" stroke="#000" stroke-width="1.1" stroke-linejoin="round"/>
<path d="M447.1 206.1L448.72 209.16H445.49Z" fill="#fff" stroke="#000" stroke-width="1.1" stroke-linejoin="round"/>
<path d="M452.6 206.1L454.22 209.16H450.99Z" fill="#fff" stroke="#000" stroke-width="1.1" stroke-linejoin="round"/>
<path d="M460.4 206.1L462.01 209.16H458.78Z" fill="#fff" stroke="#000" stroke-width="1.1" stroke-linejoin="round"/>
<path d="M466 206.1L467.62 209.16H464.38Z" fill="#fff" stroke="#000" stroke-width="1.1" stroke-linejoin="round"/>
<text x="344.8" y="132.7" font-size="18.2" font-weight="bold" fill="#000">F</text>
<text x="382.3" y="135.6" font-size="10.2" font-weight="bold" fill="#000" textLength="22.8" lengthAdjust="spacingAndGlyphs">RM6</text>
</g>
<path d="M21.1 25V211.5" stroke="#2a2a2a" stroke-width="1.45" fill="none"/>
<path d="M493.3 25.8V212.4" stroke="#2a2a2a" stroke-width="1.3" fill="none"/>
<path d="M79.6 241.5H434.6" stroke="#2a2a2a" stroke-width="1.45" fill="none"/>
<text transform="translate(11.2,118.8) rotate(-90)" font-size="11.2" text-anchor="middle" fill="#000" stroke="#000" stroke-width="0.3">TREC/CD8+ T-cells</text>
<text transform="translate(509.2,116.6) rotate(90.8)" font-size="11.6" text-anchor="middle" textLength="152" lengthAdjust="spacingAndGlyphs" fill="#000" stroke="#000" stroke-width="0.3">IL-7 (fold change from baseline)</text>
<text x="261" y="256.7" font-size="11" text-anchor="middle" fill="#000" stroke="#000" stroke-width="0.3">Weeks after infection</text>
</svg>
</body></html>
